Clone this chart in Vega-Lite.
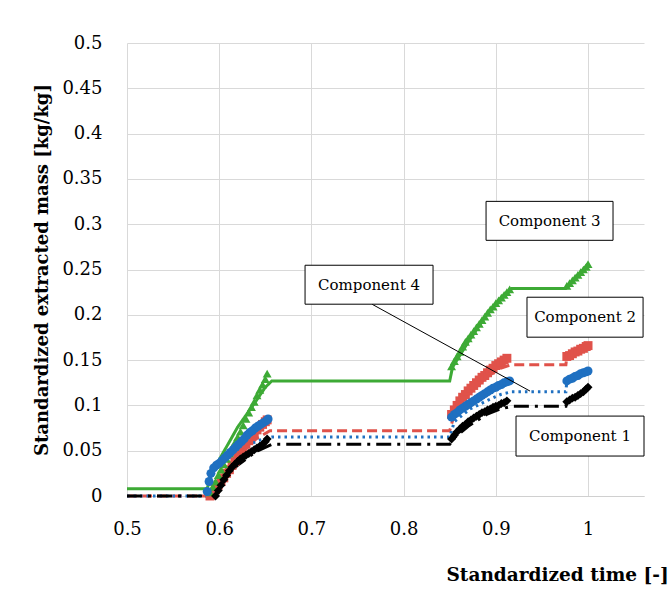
{
  "$schema": "https://vega.github.io/schema/vega-lite/v6.json",
  "width": 517,
  "height": 453,
  "autosize": {"type": "none"},
  "padding": {"left": 127, "top": 43, "right": 24, "bottom": 114},
  "background": "white",
  "config": {"view": {"stroke": null}, "font": "DejaVu Serif"},
  "datasets": {
    "model": [
      {"comp": "C3", "x": 0.5, "y": 0.008}, {"comp": "C3", "x": 0.587, "y": 0.008}, {"comp": "C3", "x": 0.59, "y": 0.02}, {"comp": "C3", "x": 0.6, "y": 0.04}, {"comp": "C3", "x": 0.62, "y": 0.076}, {"comp": "C3", "x": 0.64, "y": 0.105}, {"comp": "C3", "x": 0.65, "y": 0.12}, {"comp": "C3", "x": 0.657, "y": 0.127}, {"comp": "C3", "x": 0.85, "y": 0.127}, {"comp": "C3", "x": 0.853, "y": 0.142}, {"comp": "C3", "x": 0.87, "y": 0.17}, {"comp": "C3", "x": 0.89, "y": 0.2}, {"comp": "C3", "x": 0.905, "y": 0.218}, {"comp": "C3", "x": 0.917, "y": 0.229}, {"comp": "C3", "x": 0.976, "y": 0.229}, {"comp": "C3", "x": 0.979, "y": 0.232}, {"comp": "C3", "x": 1.0, "y": 0.256},
      {"comp": "C2", "x": 0.5, "y": 0}, {"comp": "C2", "x": 0.59, "y": 0}, {"comp": "C2", "x": 0.6, "y": 0.017}, {"comp": "C2", "x": 0.62, "y": 0.044}, {"comp": "C2", "x": 0.64, "y": 0.063}, {"comp": "C2", "x": 0.655, "y": 0.072}, {"comp": "C2", "x": 0.85, "y": 0.072}, {"comp": "C2", "x": 0.855, "y": 0.09}, {"comp": "C2", "x": 0.87, "y": 0.112}, {"comp": "C2", "x": 0.89, "y": 0.131}, {"comp": "C2", "x": 0.905, "y": 0.141}, {"comp": "C2", "x": 0.917, "y": 0.145}, {"comp": "C2", "x": 0.976, "y": 0.145}, {"comp": "C2", "x": 0.977, "y": 0.154}, {"comp": "C2", "x": 1.0, "y": 0.166},
      {"comp": "C4", "x": 0.5, "y": 0}, {"comp": "C4", "x": 0.587, "y": 0}, {"comp": "C4", "x": 0.592, "y": 0.028}, {"comp": "C4", "x": 0.605, "y": 0.04}, {"comp": "C4", "x": 0.625, "y": 0.054}, {"comp": "C4", "x": 0.645, "y": 0.062}, {"comp": "C4", "x": 0.657, "y": 0.065}, {"comp": "C4", "x": 0.85, "y": 0.065}, {"comp": "C4", "x": 0.855, "y": 0.082}, {"comp": "C4", "x": 0.872, "y": 0.096}, {"comp": "C4", "x": 0.89, "y": 0.105}, {"comp": "C4", "x": 0.905, "y": 0.112}, {"comp": "C4", "x": 0.917, "y": 0.115}, {"comp": "C4", "x": 0.976, "y": 0.115}, {"comp": "C4", "x": 0.977, "y": 0.127}, {"comp": "C4", "x": 1.0, "y": 0.138},
      {"comp": "C1", "x": 0.5, "y": 0}, {"comp": "C1", "x": 0.592, "y": 0}, {"comp": "C1", "x": 0.6, "y": 0.014}, {"comp": "C1", "x": 0.62, "y": 0.034}, {"comp": "C1", "x": 0.64, "y": 0.049}, {"comp": "C1", "x": 0.657, "y": 0.057}, {"comp": "C1", "x": 0.85, "y": 0.057}, {"comp": "C1", "x": 0.856, "y": 0.065}, {"comp": "C1", "x": 0.87, "y": 0.077}, {"comp": "C1", "x": 0.89, "y": 0.09}, {"comp": "C1", "x": 0.905, "y": 0.096}, {"comp": "C1", "x": 0.917, "y": 0.099}, {"comp": "C1", "x": 0.976, "y": 0.099}, {"comp": "C1", "x": 0.977, "y": 0.104}, {"comp": "C1", "x": 1.0, "y": 0.12}
    ],
    "obs": [
      {"comp": "C2", "x": 0.590, "y": 0.000}, {"comp": "C2", "x": 0.593, "y": 0.003}, {"comp": "C2", "x": 0.596, "y": 0.007}, {"comp": "C2", "x": 0.599, "y": 0.012}, {"comp": "C2", "x": 0.602, "y": 0.016}, {"comp": "C2", "x": 0.605, "y": 0.020}, {"comp": "C2", "x": 0.608, "y": 0.025}, {"comp": "C2", "x": 0.611, "y": 0.029}, {"comp": "C2", "x": 0.614, "y": 0.034}, {"comp": "C2", "x": 0.617, "y": 0.038}, {"comp": "C2", "x": 0.620, "y": 0.043}, {"comp": "C2", "x": 0.623, "y": 0.047}, {"comp": "C2", "x": 0.626, "y": 0.052}, {"comp": "C2", "x": 0.629, "y": 0.057}, {"comp": "C2", "x": 0.632, "y": 0.061}, {"comp": "C2", "x": 0.635, "y": 0.066}, {"comp": "C2", "x": 0.638, "y": 0.069}, {"comp": "C2", "x": 0.641, "y": 0.073}, {"comp": "C2", "x": 0.644, "y": 0.076}, {"comp": "C2", "x": 0.647, "y": 0.079}, {"comp": "C2", "x": 0.650, "y": 0.082}, {"comp": "C2", "x": 0.652, "y": 0.084},
      {"comp": "C2", "x": 0.852, "y": 0.090}, {"comp": "C2", "x": 0.855, "y": 0.095}, {"comp": "C2", "x": 0.858, "y": 0.100}, {"comp": "C2", "x": 0.861, "y": 0.105}, {"comp": "C2", "x": 0.864, "y": 0.109}, {"comp": "C2", "x": 0.867, "y": 0.112}, {"comp": "C2", "x": 0.870, "y": 0.116}, {"comp": "C2", "x": 0.873, "y": 0.119}, {"comp": "C2", "x": 0.876, "y": 0.122}, {"comp": "C2", "x": 0.879, "y": 0.125}, {"comp": "C2", "x": 0.882, "y": 0.128}, {"comp": "C2", "x": 0.885, "y": 0.131}, {"comp": "C2", "x": 0.888, "y": 0.133}, {"comp": "C2", "x": 0.891, "y": 0.136}, {"comp": "C2", "x": 0.894, "y": 0.139}, {"comp": "C2", "x": 0.897, "y": 0.141}, {"comp": "C2", "x": 0.900, "y": 0.144}, {"comp": "C2", "x": 0.903, "y": 0.146}, {"comp": "C2", "x": 0.906, "y": 0.148}, {"comp": "C2", "x": 0.909, "y": 0.150}, {"comp": "C2", "x": 0.912, "y": 0.152},
      {"comp": "C2", "x": 0.977, "y": 0.154}, {"comp": "C2", "x": 0.980, "y": 0.155}, {"comp": "C2", "x": 0.983, "y": 0.157}, {"comp": "C2", "x": 0.986, "y": 0.159}, {"comp": "C2", "x": 0.989, "y": 0.160}, {"comp": "C2", "x": 0.992, "y": 0.162}, {"comp": "C2", "x": 0.995, "y": 0.163}, {"comp": "C2", "x": 0.998, "y": 0.165}, {"comp": "C2", "x": 1.000, "y": 0.166},
      {"comp": "C3", "x": 0.590, "y": 0.004}, {"comp": "C3", "x": 0.593, "y": 0.010}, {"comp": "C3", "x": 0.596, "y": 0.016}, {"comp": "C3", "x": 0.599, "y": 0.023}, {"comp": "C3", "x": 0.602, "y": 0.029}, {"comp": "C3", "x": 0.605, "y": 0.035}, {"comp": "C3", "x": 0.608, "y": 0.041}, {"comp": "C3", "x": 0.611, "y": 0.047}, {"comp": "C3", "x": 0.614, "y": 0.053}, {"comp": "C3", "x": 0.617, "y": 0.059}, {"comp": "C3", "x": 0.620, "y": 0.065}, {"comp": "C3", "x": 0.623, "y": 0.071}, {"comp": "C3", "x": 0.626, "y": 0.078}, {"comp": "C3", "x": 0.629, "y": 0.085}, {"comp": "C3", "x": 0.632, "y": 0.092}, {"comp": "C3", "x": 0.635, "y": 0.098}, {"comp": "C3", "x": 0.638, "y": 0.104}, {"comp": "C3", "x": 0.641, "y": 0.111}, {"comp": "C3", "x": 0.644, "y": 0.117}, {"comp": "C3", "x": 0.647, "y": 0.123}, {"comp": "C3", "x": 0.650, "y": 0.129}, {"comp": "C3", "x": 0.652, "y": 0.135},
      {"comp": "C3", "x": 0.852, "y": 0.143}, {"comp": "C3", "x": 0.855, "y": 0.149}, {"comp": "C3", "x": 0.858, "y": 0.154}, {"comp": "C3", "x": 0.861, "y": 0.159}, {"comp": "C3", "x": 0.864, "y": 0.165}, {"comp": "C3", "x": 0.867, "y": 0.170}, {"comp": "C3", "x": 0.870, "y": 0.174}, {"comp": "C3", "x": 0.873, "y": 0.178}, {"comp": "C3", "x": 0.876, "y": 0.182}, {"comp": "C3", "x": 0.879, "y": 0.186}, {"comp": "C3", "x": 0.882, "y": 0.190}, {"comp": "C3", "x": 0.885, "y": 0.194}, {"comp": "C3", "x": 0.888, "y": 0.198}, {"comp": "C3", "x": 0.891, "y": 0.202}, {"comp": "C3", "x": 0.894, "y": 0.206}, {"comp": "C3", "x": 0.897, "y": 0.209}, {"comp": "C3", "x": 0.900, "y": 0.213}, {"comp": "C3", "x": 0.903, "y": 0.216}, {"comp": "C3", "x": 0.906, "y": 0.219}, {"comp": "C3", "x": 0.909, "y": 0.222}, {"comp": "C3", "x": 0.912, "y": 0.225}, {"comp": "C3", "x": 0.915, "y": 0.228},
      {"comp": "C3", "x": 0.977, "y": 0.232}, {"comp": "C3", "x": 0.980, "y": 0.235}, {"comp": "C3", "x": 0.983, "y": 0.238}, {"comp": "C3", "x": 0.986, "y": 0.241}, {"comp": "C3", "x": 0.989, "y": 0.244}, {"comp": "C3", "x": 0.992, "y": 0.247}, {"comp": "C3", "x": 0.995, "y": 0.250}, {"comp": "C3", "x": 0.998, "y": 0.253}, {"comp": "C3", "x": 1.000, "y": 0.256},
      {"comp": "C1", "x": 0.596, "y": 0.000}, {"comp": "C1", "x": 0.599, "y": 0.006}, {"comp": "C1", "x": 0.602, "y": 0.012}, {"comp": "C1", "x": 0.605, "y": 0.018}, {"comp": "C1", "x": 0.608, "y": 0.023}, {"comp": "C1", "x": 0.611, "y": 0.028}, {"comp": "C1", "x": 0.614, "y": 0.032}, {"comp": "C1", "x": 0.617, "y": 0.035}, {"comp": "C1", "x": 0.620, "y": 0.038}, {"comp": "C1", "x": 0.623, "y": 0.041}, {"comp": "C1", "x": 0.626, "y": 0.043}, {"comp": "C1", "x": 0.629, "y": 0.045}, {"comp": "C1", "x": 0.632, "y": 0.047}, {"comp": "C1", "x": 0.635, "y": 0.049}, {"comp": "C1", "x": 0.638, "y": 0.051}, {"comp": "C1", "x": 0.641, "y": 0.053}, {"comp": "C1", "x": 0.644, "y": 0.055}, {"comp": "C1", "x": 0.647, "y": 0.057}, {"comp": "C1", "x": 0.650, "y": 0.060}, {"comp": "C1", "x": 0.652, "y": 0.063},
      {"comp": "C1", "x": 0.852, "y": 0.063}, {"comp": "C1", "x": 0.855, "y": 0.067}, {"comp": "C1", "x": 0.858, "y": 0.071}, {"comp": "C1", "x": 0.861, "y": 0.074}, {"comp": "C1", "x": 0.864, "y": 0.077}, {"comp": "C1", "x": 0.867, "y": 0.079}, {"comp": "C1", "x": 0.870, "y": 0.082}, {"comp": "C1", "x": 0.873, "y": 0.084}, {"comp": "C1", "x": 0.876, "y": 0.086}, {"comp": "C1", "x": 0.879, "y": 0.088}, {"comp": "C1", "x": 0.882, "y": 0.090}, {"comp": "C1", "x": 0.885, "y": 0.092}, {"comp": "C1", "x": 0.888, "y": 0.093}, {"comp": "C1", "x": 0.891, "y": 0.095}, {"comp": "C1", "x": 0.894, "y": 0.096}, {"comp": "C1", "x": 0.897, "y": 0.098}, {"comp": "C1", "x": 0.900, "y": 0.099}, {"comp": "C1", "x": 0.903, "y": 0.100}, {"comp": "C1", "x": 0.906, "y": 0.102}, {"comp": "C1", "x": 0.909, "y": 0.103}, {"comp": "C1", "x": 0.912, "y": 0.105},
      {"comp": "C1", "x": 0.977, "y": 0.104}, {"comp": "C1", "x": 0.980, "y": 0.106}, {"comp": "C1", "x": 0.983, "y": 0.108}, {"comp": "C1", "x": 0.986, "y": 0.109}, {"comp": "C1", "x": 0.989, "y": 0.111}, {"comp": "C1", "x": 0.992, "y": 0.113}, {"comp": "C1", "x": 0.995, "y": 0.115}, {"comp": "C1", "x": 0.998, "y": 0.118}, {"comp": "C1", "x": 1.000, "y": 0.120},
      {"comp": "C4", "x": 0.587, "y": 0.005}, {"comp": "C4", "x": 0.589, "y": 0.016}, {"comp": "C4", "x": 0.591, "y": 0.025}, {"comp": "C4", "x": 0.594, "y": 0.031}, {"comp": "C4", "x": 0.597, "y": 0.034}, {"comp": "C4", "x": 0.600, "y": 0.036}, {"comp": "C4", "x": 0.603, "y": 0.039}, {"comp": "C4", "x": 0.606, "y": 0.042}, {"comp": "C4", "x": 0.609, "y": 0.045}, {"comp": "C4", "x": 0.612, "y": 0.048}, {"comp": "C4", "x": 0.615, "y": 0.051}, {"comp": "C4", "x": 0.618, "y": 0.054}, {"comp": "C4", "x": 0.621, "y": 0.057}, {"comp": "C4", "x": 0.624, "y": 0.060}, {"comp": "C4", "x": 0.627, "y": 0.063}, {"comp": "C4", "x": 0.630, "y": 0.067}, {"comp": "C4", "x": 0.633, "y": 0.070}, {"comp": "C4", "x": 0.636, "y": 0.072}, {"comp": "C4", "x": 0.639, "y": 0.075}, {"comp": "C4", "x": 0.642, "y": 0.077}, {"comp": "C4", "x": 0.645, "y": 0.079}, {"comp": "C4", "x": 0.648, "y": 0.081}, {"comp": "C4", "x": 0.651, "y": 0.083}, {"comp": "C4", "x": 0.653, "y": 0.085},
      {"comp": "C4", "x": 0.852, "y": 0.087}, {"comp": "C4", "x": 0.855, "y": 0.090}, {"comp": "C4", "x": 0.858, "y": 0.092}, {"comp": "C4", "x": 0.861, "y": 0.095}, {"comp": "C4", "x": 0.864, "y": 0.097}, {"comp": "C4", "x": 0.867, "y": 0.099}, {"comp": "C4", "x": 0.870, "y": 0.101}, {"comp": "C4", "x": 0.873, "y": 0.103}, {"comp": "C4", "x": 0.876, "y": 0.105}, {"comp": "C4", "x": 0.879, "y": 0.107}, {"comp": "C4", "x": 0.882, "y": 0.109}, {"comp": "C4", "x": 0.885, "y": 0.111}, {"comp": "C4", "x": 0.888, "y": 0.113}, {"comp": "C4", "x": 0.891, "y": 0.115}, {"comp": "C4", "x": 0.894, "y": 0.117}, {"comp": "C4", "x": 0.897, "y": 0.119}, {"comp": "C4", "x": 0.900, "y": 0.120}, {"comp": "C4", "x": 0.903, "y": 0.122}, {"comp": "C4", "x": 0.906, "y": 0.123}, {"comp": "C4", "x": 0.909, "y": 0.125}, {"comp": "C4", "x": 0.912, "y": 0.126}, {"comp": "C4", "x": 0.915, "y": 0.127},
      {"comp": "C4", "x": 0.977, "y": 0.127}, {"comp": "C4", "x": 0.980, "y": 0.129}, {"comp": "C4", "x": 0.983, "y": 0.130}, {"comp": "C4", "x": 0.986, "y": 0.132}, {"comp": "C4", "x": 0.989, "y": 0.133}, {"comp": "C4", "x": 0.992, "y": 0.135}, {"comp": "C4", "x": 0.995, "y": 0.136}, {"comp": "C4", "x": 0.998, "y": 0.137}, {"comp": "C4", "x": 1.000, "y": 0.138}
    ],
    "leader": [{"x": 0.7657, "y": 0.2117, "x2": 0.9371, "y2": 0.1158}],
    "boxes": [
      {"label": "Component 3", "x": 0.8894, "x2": 1.0271, "y": 0.3252, "y2": 0.2822},
      {"label": "Component 4", "x": 0.6931, "x2": 0.8319, "y": 0.2547, "y2": 0.2117},
      {"label": "Component 2", "x": 0.9338, "x2": 1.0597, "y": 0.2194, "y2": 0.1753},
      {"label": "Component 1", "x": 0.9219, "x2": 1.0607, "y": 0.0882, "y2": 0.0441}
    ],
    "labels": [
      {"label": "Component 3", "x": 0.9583, "y": 0.3037},
      {"label": "Component 4", "x": 0.7625, "y": 0.2332},
      {"label": "Component 2", "x": 0.9968, "y": 0.1974},
      {"label": "Component 1", "x": 0.9913, "y": 0.0662}
    ]
  },
  "encoding": {
    "x": {
      "field": "x", "type": "quantitative",
      "scale": {"domain": [0.5, 1.0607], "nice": false, "zero": false},
      "axis": {
        "values": [0.5, 0.6, 0.7, 0.8, 0.9, 1.0], "format": "~g", "labelFlush": false,
        "grid": true, "gridColor": "#D9D9D9", "gridWidth": 1,
        "domainColor": "#D0D0D0", "domainWidth": 1, "ticks": false,
        "labelFont": "DejaVu Serif", "labelFontSize": 18, "labelColor": "#000000", "labelPadding": 24,
        "title": "Standardized time [-]", "titleFont": "DejaVu Serif", "titleFontSize": 18.5, "titleFontWeight": "bold", "titleColor": "#000000",
        "titleX": 319, "titleY": 78, "titleAlign": "left", "titleAnchor": "start", "titleBaseline": "middle"
      }
    },
    "y": {
      "field": "y", "type": "quantitative",
      "scale": {"domain": [0, 0.5], "nice": false, "zero": false},
      "axis": {
        "values": [0, 0.05, 0.1, 0.15, 0.2, 0.25, 0.3, 0.35, 0.4, 0.45, 0.5], "format": "~g",
        "grid": true, "gridColor": "#D9D9D9", "gridWidth": 1,
        "domain": false, "ticks": false,
        "labelFont": "DejaVu Serif", "labelFontSize": 18, "labelColor": "#000000", "labelPadding": 25,
        "title": "Standardized extracted mass [kg/kg]", "titleFont": "DejaVu Serif", "titleFontSize": 18, "titleFontWeight": "bold", "titleColor": "#000000",
        "titlePadding": 10
      }
    }
  },
  "layer": [
    {
      "data": {"name": "model"},
      "mark": {"type": "line", "strokeWidth": 3},
      "encoding": {
        "color": {"field": "comp", "type": "nominal", "scale": {"domain": ["C1", "C2", "C3", "C4"], "range": ["#000000", "#E0524A", "#3DAA35", "#1F70C1"]}, "legend": null},
        "strokeDash": {"field": "comp", "type": "nominal", "scale": {"domain": ["C1", "C2", "C3", "C4"], "range": [[15, 6, 3, 6], [10, 5], [1, 0], [2.5, 4]]}, "legend": null}
      }
    },
    {
      "data": {"name": "obs"},
      "mark": {"type": "point", "filled": true, "opacity": 1, "size": 80},
      "encoding": {
        "color": {"field": "comp", "type": "nominal", "scale": {"domain": ["C1", "C2", "C3", "C4"], "range": ["#000000", "#E0524A", "#3DAA35", "#1F70C1"]}, "legend": null},
        "shape": {"field": "comp", "type": "nominal", "scale": {"domain": ["C1", "C2", "C3", "C4"], "range": ["diamond", "square", "triangle-up", "circle"]}, "legend": null}
      }
    },
    {
      "data": {"name": "leader"},
      "mark": {"type": "rule", "color": "#000000", "strokeWidth": 1},
      "encoding": {"x2": {"field": "x2"}, "y2": {"field": "y2"}}
    },
    {
      "data": {"name": "boxes"},
      "mark": {"type": "rect", "fill": "#FFFFFF", "stroke": "#000000", "strokeWidth": 1},
      "encoding": {"x2": {"field": "x2"}, "y2": {"field": "y2"}}
    },
    {
      "data": {"name": "labels"},
      "mark": {"type": "text", "font": "DejaVu Serif", "fontSize": 15, "color": "#000000", "align": "center", "baseline": "middle"},
      "encoding": {"text": {"field": "label"}}
    }
  ]
}
